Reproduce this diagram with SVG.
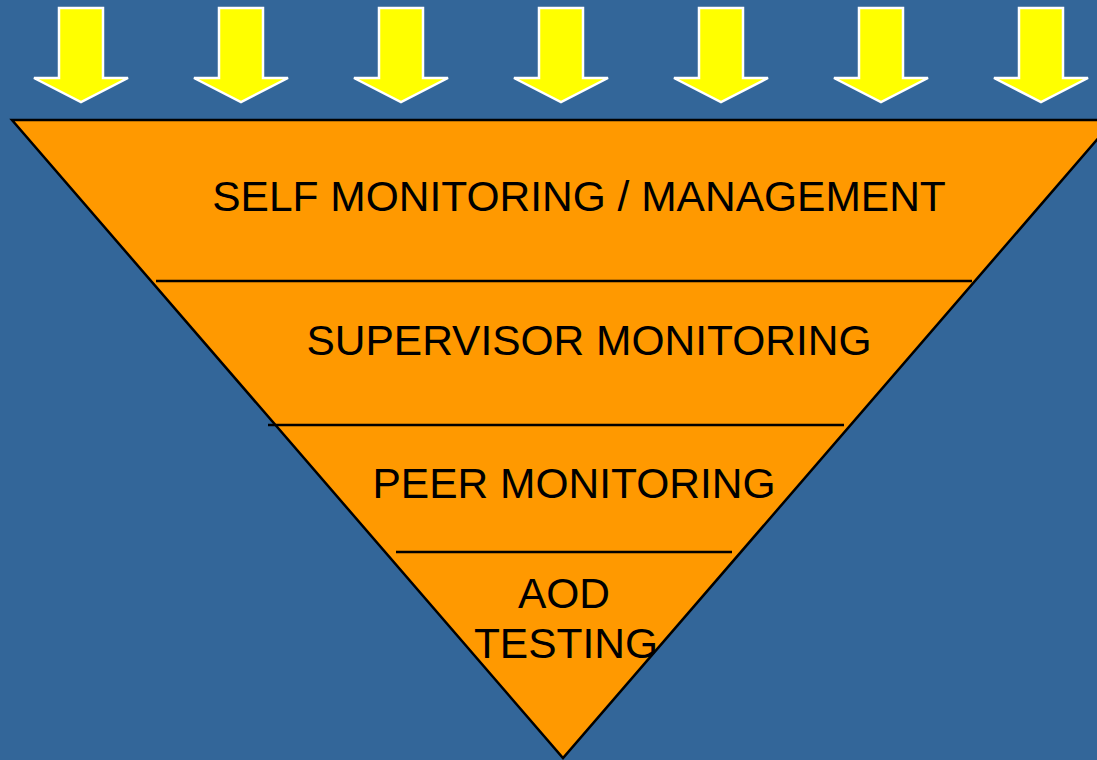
<svg xmlns="http://www.w3.org/2000/svg" width="1097" height="760" viewBox="0 0 1097 760">
<defs>
<style>
.arrow{fill:#FFFF00;stroke:#FFFFFF;stroke-width:2.5;stroke-linejoin:miter}
.tri{fill:#FF9900;stroke:#000000;stroke-width:2.5;stroke-linejoin:miter}
.sep{stroke:#000000;stroke-width:2.5}
.lbl{font-family:"Liberation Sans",Arial,sans-serif;font-size:42.5px;fill:#000000;text-anchor:middle}
</style>
<path id="arr" d="M-22,8 H22 V78 H47 L0,102 L-47,78 H-22 Z"/>
</defs>
<rect x="0" y="0" width="1097" height="760" fill="#336699"/>
<g id="arrows">
<use href="#arr" class="arrow" x="81"/>
<use href="#arr" class="arrow" x="241"/>
<use href="#arr" class="arrow" x="401"/>
<use href="#arr" class="arrow" x="561"/>
<use href="#arr" class="arrow" x="721"/>
<use href="#arr" class="arrow" x="881"/>
<use href="#arr" class="arrow" x="1041"/>
</g>
<g id="funnel">
<polygon class="tri" points="12,120 1114,120 563,758"/>
</g>
<g id="connectors">
<line class="sep" x1="156" y1="281" x2="972" y2="281"/>
<line class="sep" x1="268" y1="425" x2="844" y2="425"/>
<line class="sep" x1="396" y1="552" x2="732" y2="552"/>
</g>
<g id="level-self">
<text class="lbl" x="579" y="211">SELF MONITORING / MANAGEMENT</text>
</g>
<g id="level-supervisor">
<text class="lbl" x="589" y="355">SUPERVISOR MONITORING</text>
</g>
<g id="level-peer">
<text class="lbl" x="574" y="498">PEER MONITORING</text>
</g>
<g id="level-aod">
<text class="lbl" x="564" y="608">AOD</text>
<text class="lbl" x="566" y="658">TESTING</text>
</g>
</svg>
